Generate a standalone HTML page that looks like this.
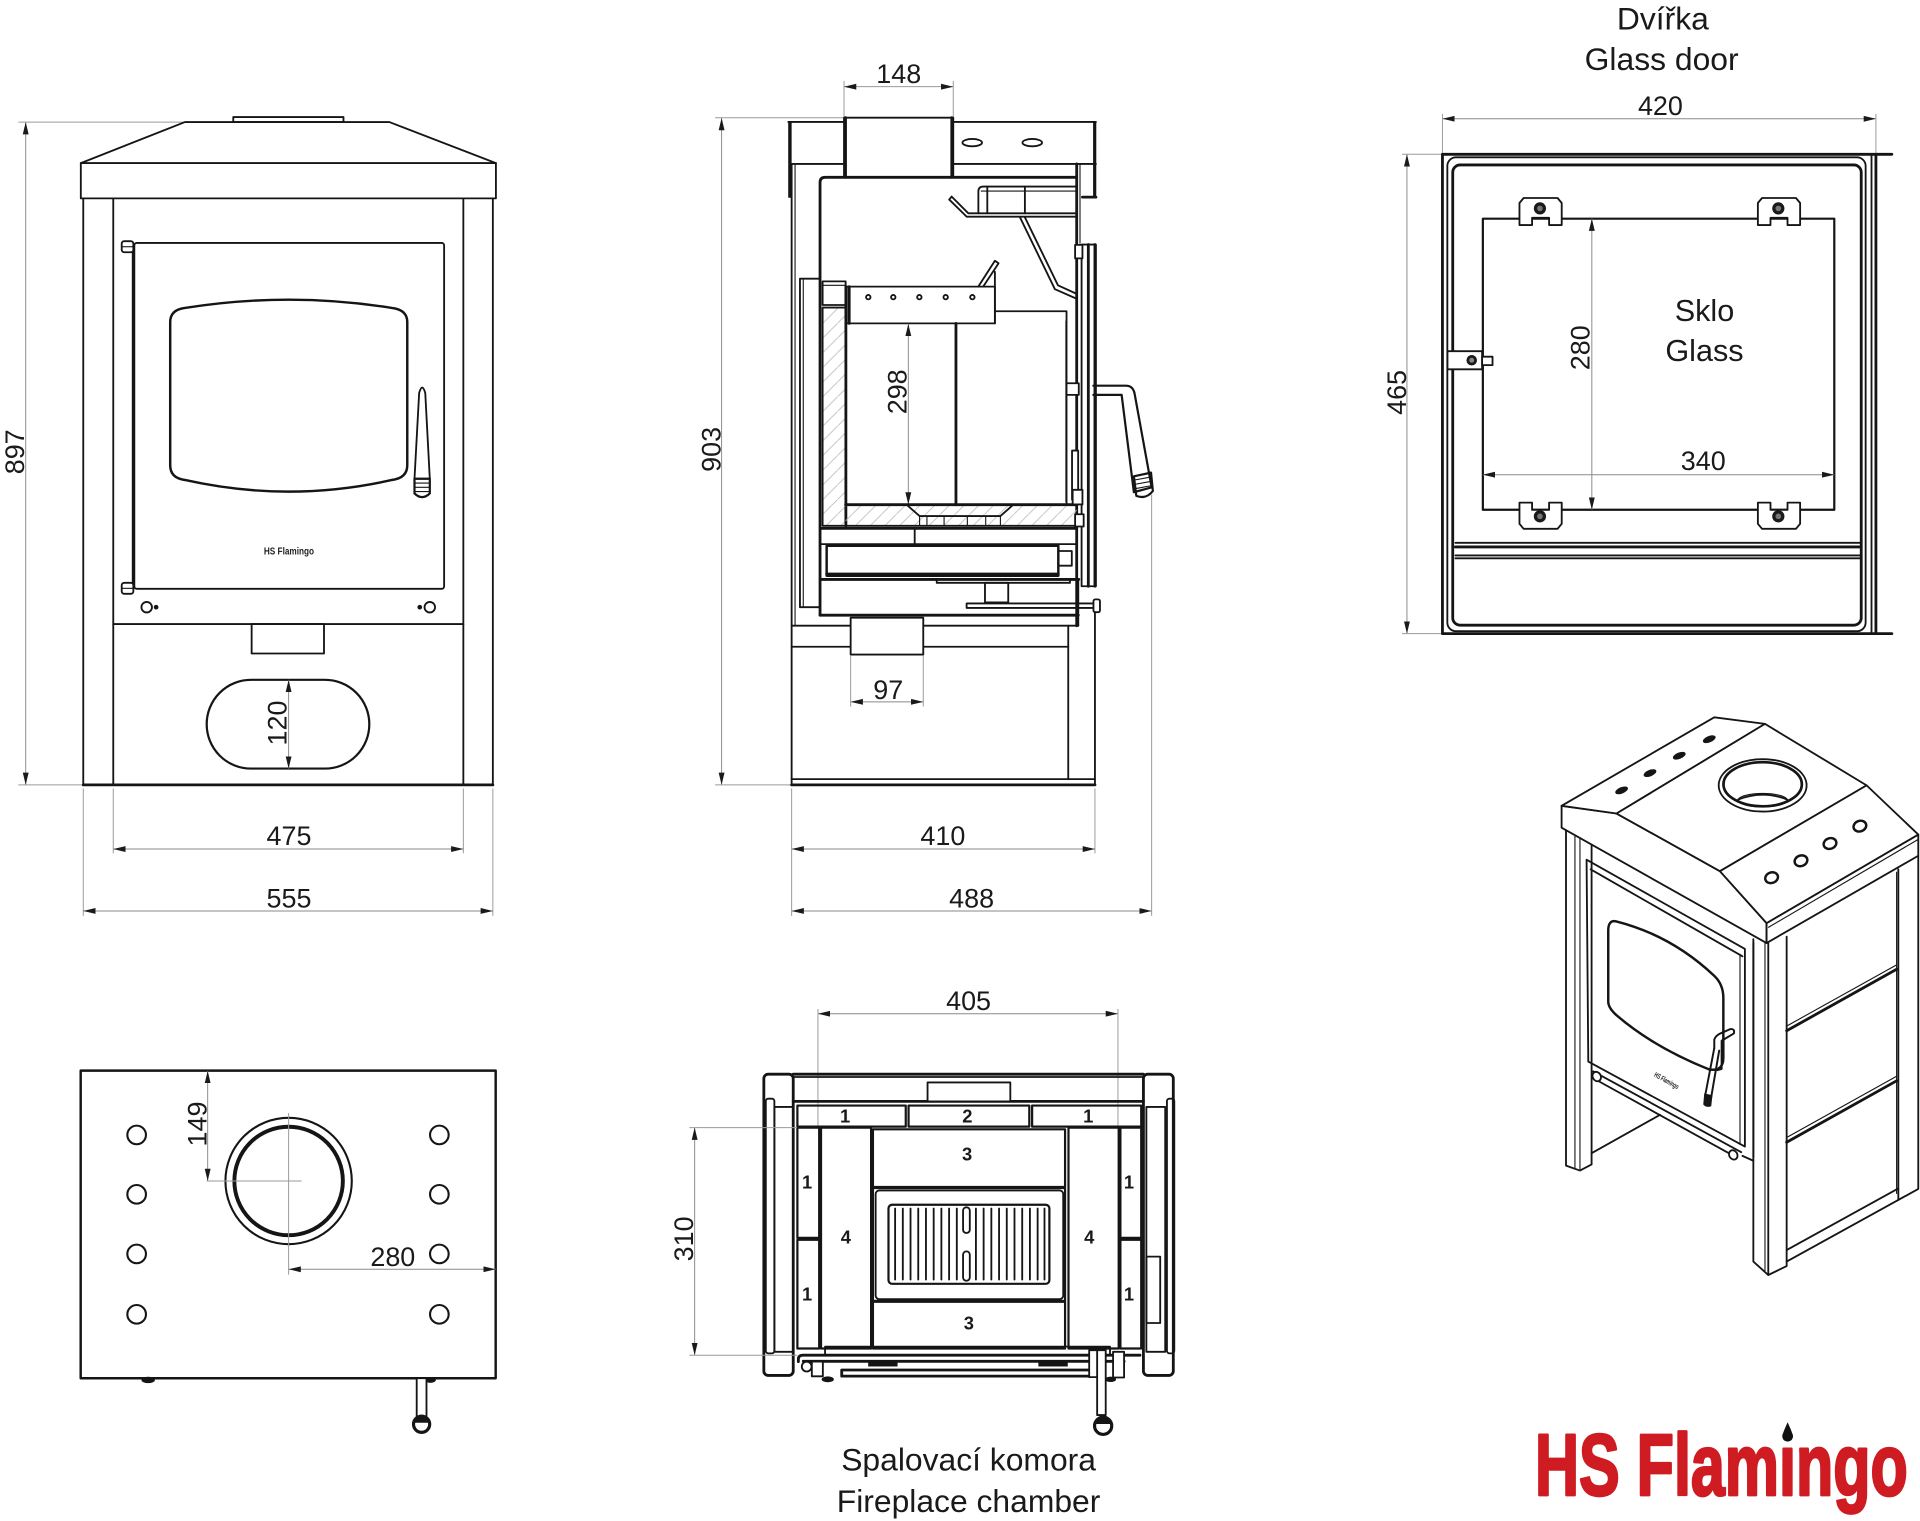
<!DOCTYPE html>
<html><head><meta charset="utf-8"><style>
html,body{margin:0;padding:0;background:#fff;}
svg{display:block}
.l{fill:none;stroke:#151515;stroke-width:1.5;stroke-linejoin:round;stroke-linecap:round}
.w{fill:#fff;stroke:#151515;stroke-width:1.5;stroke-linejoin:round}
.m{fill:none;stroke:#151515;stroke-width:2.3;stroke-linejoin:round;stroke-linecap:round}
.n{fill:none;stroke:#151515;stroke-width:0.9}
.d{fill:none;stroke:#9a9a9a;stroke-width:0.8}
.a{fill:none;stroke:#8a8a8a;stroke-width:0.8}
.f{fill:#151515;stroke:none}
text{font-family:"Liberation Sans",Arial,sans-serif;fill:#1a1a1a}
.dt{font-size:22px}
.lb{font-size:26px}
.nb{font-size:15px;font-weight:bold}
</style></head><body>
<svg width="1920" height="1521" viewBox="0 0 1568 1242.2" preserveAspectRatio="none" xmlns="http://www.w3.org/2000/svg">
<defs>
<marker id="ar" viewBox="0 0 10 6" refX="10" refY="3" markerWidth="10" markerHeight="6" markerUnits="userSpaceOnUse" orient="auto-start-reverse"><path d="M0,0.6 L10,3 L0,5.4 z" fill="#1a1a1a"/></marker>
<pattern id="h" patternUnits="userSpaceOnUse" width="12" height="12"><path d="M-1,13 L13,-1" stroke="#bdbdbd" stroke-width="0.7"/></pattern>
</defs>
<rect width="1568" height="1242.2" fill="#fff"/>

<!-- ================= FRONT VIEW ================= -->
<g>
<line class="a" x1="21" y1="99.7" x2="21" y2="641" marker-start="url(#ar)" marker-end="url(#ar)"/>
<path class="d" d="M15,99.7 H151 M15,641 H68"/>
<text class="dt" transform="translate(19.6,369) rotate(-90)" text-anchor="middle">897</text>

<polyline class="l" points="66,133.2 151,99.7 318,99.7 405,133.2"/>
<rect class="l" x="190.5" y="95.6" width="90" height="4.1"/>
<rect class="l" x="66" y="133.2" width="339" height="28.8"/>
<line class="l" x1="68" y1="162" x2="68" y2="641"/>
<line class="l" x1="402.5" y1="162" x2="402.5" y2="641"/>
<line class="l" x1="92.5" y1="162" x2="92.5" y2="641"/>
<line class="l" x1="378.4" y1="162" x2="378.4" y2="641"/>
<line class="m" x1="68" y1="641" x2="402.5" y2="641"/>
<line class="l" x1="92.5" y1="509.7" x2="378.4" y2="509.7"/>
<rect class="l" x="109.7" y="198.4" width="253" height="282.5" rx="2"/>
<line class="m" x1="108.8" y1="201" x2="108.8" y2="480"/>
<rect class="w" x="99.4" y="197" width="9.5" height="9" rx="2"/>
<line class="n" x1="99.4" y1="201.5" x2="108.9" y2="201.5"/>
<rect class="w" x="99.4" y="476" width="9.5" height="9" rx="2"/>
<line class="n" x1="99.4" y1="480.5" x2="108.9" y2="480.5"/>
<path class="l" style="stroke-width:2" d="M139,263 Q139,253 151,251.5 Q236,238 320,251.5 Q332.6,253 332.6,263 L332.6,380 Q332.6,390.5 320,392 Q236,411 151,392 Q139,390.5 139,380 Z"/>
<path class="l" d="M342.3,321 Q344.8,312 347.3,321 L351,391 L338.5,391 Z"/>
<path class="l" style="stroke-width:1.8" d="M338.5,391 L351,391 L351,403 Q344.7,409 338.5,403 Z"/>
<path class="n" d="M338.5,394.5 H351 M338.5,398 H351 M338.5,401.5 H351"/>
<text x="236" y="453" text-anchor="middle" textLength="41" lengthAdjust="spacingAndGlyphs" style="font-size:8.5px;font-weight:bold;fill:#222">HS Flamingo</text>
<circle class="l" cx="119.8" cy="495.9" r="4.3"/>
<circle class="f" cx="127.5" cy="495.9" r="1.9"/>
<circle class="l" cx="351" cy="495.9" r="4.3"/>
<circle class="f" cx="342.8" cy="495.9" r="1.9"/>
<rect class="l" x="205.5" y="509.7" width="59.1" height="24"/>
<rect class="l" style="stroke-width:1.8" x="168.8" y="555.2" width="132.8" height="72.5" rx="36.2"/>
<line class="a" x1="235.7" y1="555.2" x2="235.7" y2="627.7" marker-start="url(#ar)" marker-end="url(#ar)"/>
<text class="dt" transform="translate(234,590.5) rotate(-90)" text-anchor="middle">120</text>

<path class="d" d="M92.5,644 V697 M378.4,644 V697 M68,644 V748 M402.5,644 V748"/>
<line class="a" x1="92.5" y1="693.4" x2="378.4" y2="693.4" marker-start="url(#ar)" marker-end="url(#ar)"/>
<text class="dt" x="236" y="690" text-anchor="middle">475</text>
<line class="a" x1="68" y1="744" x2="402.5" y2="744" marker-start="url(#ar)" marker-end="url(#ar)"/>
<text class="dt" x="236" y="741" text-anchor="middle">555</text>
</g>

<!-- ================= SIDE VIEW ================= -->
<g>
<line class="a" x1="589.3" y1="96.4" x2="589.3" y2="641" marker-start="url(#ar)" marker-end="url(#ar)"/>
<path class="d" d="M584,96.2 H689 M584,641 H646"/>
<text class="dt" transform="translate(588.5,367) rotate(-90)" text-anchor="middle">903</text>

<line class="a" x1="689.3" y1="70.8" x2="778.5" y2="70.8" marker-start="url(#ar)" marker-end="url(#ar)"/>
<path class="d" d="M689.3,66 V96 M778.5,66 V96"/>
<text class="dt" x="734" y="68" text-anchor="middle">148</text>

<path class="l" d="M643.8,99.6 H689.3 M778.5,99.6 H895 M646.5,133.9 H689.3 M778.5,133.9 H895"/>
<line x1="645.1" y1="99.6" x2="645.1" y2="161.5" stroke="#151515" stroke-width="2.8"/>
<line x1="894" y1="99.6" x2="894" y2="161" stroke="#151515" stroke-width="2.6"/>
<line class="m" x1="884" y1="161" x2="895" y2="161"/>
<rect class="l" x="689.3" y="96.1" width="89.2" height="48.7"/>
<line class="m" x1="690.5" y1="96.1" x2="690.5" y2="144.8"/>
<line class="m" x1="777.3" y1="96.1" x2="777.3" y2="144.8"/>
<ellipse class="l" cx="794" cy="116.5" rx="8" ry="3"/>
<ellipse class="l" cx="843" cy="116.5" rx="8" ry="3"/>
<line class="l" x1="646.5" y1="133.9" x2="646.5" y2="641"/>
<line class="n" x1="649.3" y1="133.9" x2="649.3" y2="511"/>
<path class="m" d="M669.7,502.4 V149 Q669.7,144.8 674,144.8 H879.3"/>
<line class="m" x1="879.3" y1="133.9" x2="879.3" y2="511"/>
<line class="n" x1="882" y1="133.9" x2="882" y2="199"/>
<path class="l" d="M879.3,152.4 H803 Q799,152.4 799,156.5 V174.2"/>
<line class="n" x1="801" y1="156" x2="879.3" y2="156"/>
<path class="l" d="M806.3,152.4 V174.2 M837,152.4 V174.2"/>
<polyline class="l" points="777.2,160.6 790.8,174.2 879.3,174.2"/>
<polyline class="l" points="775.2,163 789.5,177 879.3,177"/>
<line class="l" x1="775.2" y1="163" x2="777.2" y2="160.6"/>
<polyline class="l" points="833,177.5 861.5,236.2 879.3,244"/>
<polyline class="l" points="837,177.5 864,233 879.3,240"/>
<rect class="l" x="653.3" y="227.6" width="16.4" height="268.3"/>
<line class="n" x1="656" y1="227.6" x2="656" y2="495.9"/>
<rect class="l" x="671.8" y="229.8" width="18.8" height="19.3"/>
<line class="n" x1="671.8" y1="233" x2="690.6" y2="233"/>
<rect x="671.8" y="251.2" width="18.8" height="178.2" fill="url(#h)"/>
<rect class="l" x="671.8" y="251.2" width="18.8" height="178.2"/>
<line class="m" x1="690.8" y1="234" x2="690.8" y2="429.4"/>
<rect class="l" x="691.4" y="234.1" width="121.1" height="30"/>
<line class="m" x1="693.5" y1="234.1" x2="693.5" y2="264.1"/>
<circle class="l" cx="709.1" cy="242.7" r="1.8"/>
<circle class="l" cx="729.5" cy="242.7" r="1.8"/>
<circle class="l" cx="750.8" cy="242.7" r="1.8"/>
<circle class="l" cx="772.3" cy="242.7" r="1.8"/>
<circle class="l" cx="794.1" cy="242.7" r="1.8"/>
<polyline class="l" points="799,234 812.5,213 815.5,215 803,234"/>
<line class="l" x1="812.5" y1="222" x2="812.5" y2="264.1"/>
<line class="m" x1="780.7" y1="264.1" x2="780.7" y2="412.2"/>
<polyline class="l" points="812.5,254.2 871,254.2 871,412.2"/>
<line class="a" x1="741.8" y1="264.5" x2="741.8" y2="412" marker-start="url(#ar)" marker-end="url(#ar)"/>
<text class="dt" transform="translate(740.4,320) rotate(-90)" text-anchor="middle">298</text>
<rect x="690.6" y="412.2" width="188.7" height="17.2" fill="url(#h)"/>
<line class="m" x1="690.6" y1="412.2" x2="879.3" y2="412.2"/>
<polyline class="l" points="740.4,412.2 751,421.5 817,421.5 827.5,412.2"/>
<path class="n" d="M751,421.5 V429.4 M817,421.5 V429.4 M757,421.5 V429.4 M771,421.5 V429.4 M790,421.5 V429.4 M805,421.5 V429.4"/>
<line class="l" x1="690.6" y1="429.4" x2="879.3" y2="429.4"/>
<line class="m" x1="671" y1="431.5" x2="879.3" y2="431.5"/>
<line class="l" x1="671" y1="444.4" x2="879.3" y2="444.4"/>
<line class="l" x1="747" y1="431.5" x2="747" y2="444.4"/>
<rect class="l" style="stroke-width:2" x="675.1" y="445.7" width="189.2" height="24.5"/>
<line class="m" x1="675.1" y1="468.8" x2="864.3" y2="468.8"/>
<rect class="l" x="864.3" y="450" width="11" height="12"/>
<line class="m" x1="671" y1="473.2" x2="881" y2="473.2"/>
<rect class="l" x="765" y="473.2" width="108.8" height="2.8"/>
<rect class="l" x="804.4" y="476" width="19" height="16"/>
<rect class="l" x="789.4" y="492.8" width="107.5" height="3.7"/>
<rect class="w" x="893" y="489.5" width="5.3" height="10.5" rx="1.5"/>
<line class="m" x1="669.7" y1="502.4" x2="880.6" y2="502.4"/>
<line class="l" x1="880.6" y1="473" x2="880.6" y2="511"/>
<rect class="l" x="883.3" y="199.7" width="11.7" height="279.1"/>
<line class="m" x1="888.8" y1="199.7" x2="888.8" y2="478.8"/>
<line class="m" x1="894.2" y1="199.7" x2="894.2" y2="478.8"/>
<line class="n" x1="870.5" y1="262" x2="870.5" y2="410"/>
<rect class="w" x="878" y="200" width="6" height="11"/>
<rect class="w" x="871" y="313" width="10" height="9.5"/>
<rect class="w" x="875.5" y="368" width="5" height="40"/>
<rect class="w" x="876" y="400" width="8" height="12"/>
<rect class="w" x="878" y="420" width="7" height="10"/>
<path class="l" style="stroke-width:1.8" d="M892.9,315 H919.5 Q925,315 926.5,321 L940.5,398 L926,402 L916,322.5 H892.9"/>
<path class="l" style="stroke-width:1.8" d="M926,389 L940,386 L941.5,401 Q936,408 928,405 Z"/>
<path class="n" d="M926.5,392 L940.5,389.5 M927,395.5 L941,393 M927.5,399 L941.3,396.5"/>
<line class="l" x1="646.5" y1="511" x2="880.6" y2="511"/>
<line class="l" x1="646.5" y1="528.2" x2="872.4" y2="528.2"/>
<rect class="w" x="694.7" y="504.5" width="59.3" height="30.1"/>
<line class="l" x1="872.4" y1="511" x2="872.4" y2="636.3"/>
<line class="l" x1="894.2" y1="500" x2="894.2" y2="641"/>
<line class="l" x1="646.5" y1="636.3" x2="894.2" y2="636.3"/>
<line class="m" x1="646.5" y1="641" x2="894.2" y2="641"/>
<line class="a" x1="694.7" y1="573.2" x2="754" y2="573.2" marker-start="url(#ar)" marker-end="url(#ar)"/>
<path class="d" d="M694.7,535 V577 M754,535 V577"/>
<text class="dt" x="725.4" y="571" text-anchor="middle">97</text>

<path class="d" d="M646.5,644 V748 M894.2,644 V697 M940.5,404 V748"/>
<line class="a" x1="646.5" y1="693.4" x2="894.2" y2="693.4" marker-start="url(#ar)" marker-end="url(#ar)"/>
<text class="dt" x="770" y="690" text-anchor="middle">410</text>
<line class="a" x1="646.5" y1="744" x2="940.5" y2="744" marker-start="url(#ar)" marker-end="url(#ar)"/>
<text class="dt" x="793.5" y="741" text-anchor="middle">488</text>
</g>

<!-- ================= GLASS DOOR ================= -->
<g>
<text class="lb" x="1358" y="24" text-anchor="middle">Dvířka</text>
<text class="lb" x="1357" y="57" text-anchor="middle">Glass door</text>
<line class="a" x1="1178" y1="97" x2="1532" y2="97" marker-start="url(#ar)" marker-end="url(#ar)"/>
<path class="d" d="M1178,93 V126 M1532,93 V126"/>
<text class="dt" x="1356" y="94" text-anchor="middle">420</text>
<line class="a" x1="1149" y1="126" x2="1149" y2="517.5" marker-start="url(#ar)" marker-end="url(#ar)"/>
<path class="d" d="M1145,126 H1178 M1145,517.5 H1178"/>
<text class="dt" transform="translate(1148.2,320.5) rotate(-90)" text-anchor="middle">465</text>

<path class="m" d="M1545,126 H1178 V517.5 H1545"/>
<line class="l" x1="1528.4" y1="126" x2="1528.4" y2="517.5"/>
<line class="m" x1="1532" y1="126" x2="1532" y2="517.5"/>
<rect class="l" x="1182" y="128.5" width="341.6" height="387" rx="7"/>
<rect class="m" x="1186.4" y="134.7" width="333.6" height="375.9" rx="6"/>
<path class="l" d="M1188.6,443.3 H1519 M1188.6,453.6 H1519 M1188.6,456 H1519"/>
<line class="m" x1="1188.6" y1="446.7" x2="1519" y2="446.7"/>
<rect class="l" style="stroke-width:1.8" x="1211" y="178.6" width="287" height="237.7"/>
<g>
<path class="w" d="M1240.9,165.8 L1244.3,161.7 L1272,161.7 L1275.4,165.8 V183.8 H1265.1 V177.9 H1251.2 V183.8 H1240.9 Z"/>
<circle cx="1257.6" cy="170.2" r="5" fill="#1a1a1a"/><circle cx="1257.6" cy="170.2" r="2.3" fill="#777"/>
<path class="w" d="M1435.6,165.8 L1439,161.7 L1466.7,161.7 L1470.1,165.8 V183.8 H1459.8 V177.9 H1445.9 V183.8 H1435.6 Z"/>
<circle cx="1452.3" cy="170.2" r="5" fill="#1a1a1a"/><circle cx="1452.3" cy="170.2" r="2.3" fill="#777"/>
</g>
<g>
<path class="w" d="M1240.9,427.8 L1244.3,431.9 L1272,431.9 L1275.4,427.8 V410.5 H1265.1 V416.4 H1251.2 V410.5 H1240.9 Z"/>
<circle cx="1257.6" cy="421.7" r="5" fill="#1a1a1a"/><circle cx="1257.6" cy="421.7" r="2.3" fill="#777"/>
<path class="w" d="M1435.6,427.8 L1439,431.9 L1466.7,431.9 L1470.1,427.8 V410.5 H1459.8 V416.4 H1445.9 V410.5 H1435.6 Z"/>
<circle cx="1452.3" cy="421.7" r="5" fill="#1a1a1a"/><circle cx="1452.3" cy="421.7" r="2.3" fill="#777"/>
</g>
<rect class="w" x="1182.1" y="286.8" width="28.3" height="14.8"/>
<rect class="w" x="1210.4" y="291.3" width="8.5" height="6.9"/>
<circle cx="1201.9" cy="294.2" r="4.3" fill="#1a1a1a"/><circle cx="1201.9" cy="294.2" r="2" fill="#888"/>
<line class="a" x1="1300" y1="178.6" x2="1300" y2="416.3" marker-start="url(#ar)" marker-end="url(#ar)"/>
<text class="dt" transform="translate(1298,284) rotate(-90)" text-anchor="middle">280</text>
<line class="a" x1="1211" y1="387.7" x2="1498" y2="387.7" marker-start="url(#ar)" marker-end="url(#ar)"/>
<text class="dt" x="1391" y="384" text-anchor="middle">340</text>
<text class="lb" x="1392" y="262" text-anchor="middle" style="font-size:25px">Sklo</text>
<text class="lb" x="1392" y="295" text-anchor="middle" style="font-size:25px">Glass</text>
</g>

<!-- ================= TOP VIEW ================= -->
<g>
<rect class="m" style="stroke-width:2" x="65.9" y="874.4" width="338.9" height="251.2"/>
<circle class="l" style="stroke-width:1.7" cx="111.6" cy="926.9" r="7.6"/>
<circle class="l" style="stroke-width:1.7" cx="111.6" cy="975.4" r="7.6"/>
<circle class="l" style="stroke-width:1.7" cx="111.6" cy="1024.1" r="7.6"/>
<circle class="l" style="stroke-width:1.7" cx="111.6" cy="1073.4" r="7.6"/>
<circle class="l" style="stroke-width:1.7" cx="358.8" cy="926.9" r="7.6"/>
<circle class="l" style="stroke-width:1.7" cx="358.8" cy="975.4" r="7.6"/>
<circle class="l" style="stroke-width:1.7" cx="358.8" cy="1024.1" r="7.6"/>
<circle class="l" style="stroke-width:1.7" cx="358.8" cy="1073.4" r="7.6"/>
<circle class="l" style="stroke-width:1.7" cx="235.7" cy="964.5" r="51.6"/>
<circle class="l" style="stroke-width:3.2" cx="235.7" cy="964.5" r="44.3"/>
<path class="d" d="M235.7,909 V1041 M168.8,964.5 H246.3"/>
<line class="a" x1="169.6" y1="874.6" x2="169.6" y2="964.5" marker-start="url(#ar)" marker-end="url(#ar)"/>
<text class="dt" transform="translate(168.8,918) rotate(-90)" text-anchor="middle">149</text>
<line class="a" x1="235.7" y1="1036.6" x2="404.8" y2="1036.6" marker-start="url(#ar)" marker-end="url(#ar)"/>
<text class="dt" x="320.8" y="1034" text-anchor="middle">280</text>
<ellipse class="f" cx="121" cy="1127" rx="5.5" ry="2.6"/>
<ellipse class="f" cx="351.5" cy="1127" rx="4.5" ry="2.4"/>
<rect class="w" x="340.3" y="1125.6" width="8" height="32"/>
<circle cx="344.3" cy="1163.2" r="6.6" fill="#fff" stroke="#151515" stroke-width="2.6"/>
<path d="M337.7,1162 A6.6,6.6 0 0 1 350.9,1162 Z" fill="#151515"/>
</g>

<!-- ================= CHAMBER ================= -->
<g>
<line class="a" x1="668" y1="827.9" x2="913" y2="827.9" marker-start="url(#ar)" marker-end="url(#ar)"/>
<path class="d" d="M668,824 V921 M913,824 V921"/>
<text class="dt" x="791" y="825" text-anchor="middle">405</text>

<rect class="m" x="623.8" y="877.3" width="24" height="246" rx="3.5"/>
<rect class="m" x="933.8" y="877.3" width="24.4" height="246" rx="3.5"/>
<line class="m" x1="647.8" y1="877.3" x2="933.8" y2="877.3"/>
<line class="l" x1="647.8" y1="879.6" x2="933.8" y2="879.6"/>
<line class="m" x1="647.8" y1="899.5" x2="933.8" y2="899.5"/>
<rect class="w" x="757.5" y="884" width="67.6" height="15.5"/>
<rect class="l" x="625.4" y="897.3" width="7" height="208" rx="2"/>
<rect class="l" x="632.4" y="904" width="15.4" height="200"/>
<rect class="l" x="953" y="897.3" width="6" height="208" rx="2"/>
<rect class="l" x="936.2" y="904" width="15.4" height="200"/>
<rect class="l" x="936.2" y="1026.3" width="11.3" height="54.2"/>
<rect class="l" style="stroke-width:1.8" x="651.2" y="902.9" width="88.5" height="17.2"/>
<rect class="l" style="stroke-width:1.8" x="742" y="902.9" width="98.6" height="17.2"/>
<rect class="l" style="stroke-width:1.8" x="842.9" y="902.9" width="89.1" height="17.2"/>
<rect class="l" style="stroke-width:1.8" x="651.2" y="920.9" width="17.8" height="90.1"/>
<rect class="l" style="stroke-width:1.8" x="651.2" y="1012.5" width="17.8" height="88.8"/>
<rect class="l" style="stroke-width:1.8" x="670.5" y="920.9" width="40.9" height="180.4"/>
<rect class="l" style="stroke-width:1.8" x="872.6" y="920.9" width="41" height="180.4"/>
<rect class="l" style="stroke-width:1.8" x="915" y="920.9" width="17" height="90.1"/>
<rect class="l" style="stroke-width:1.8" x="915" y="1012.5" width="17" height="88.8"/>
<rect class="l" style="stroke-width:1.8" x="712.9" y="922.3" width="156.9" height="47.1"/>
<rect class="l" style="stroke-width:1.8" x="712.9" y="1063.2" width="156.9" height="38.1"/>
<rect class="l" style="stroke-width:1.8" x="712.9" y="970.3" width="156.9" height="92.1"/>
<rect class="l" x="715.1" y="972.2" width="153.2" height="88.8" rx="3"/>
<rect class="l" style="stroke-width:1.8" x="725.6" y="983.9" width="131.4" height="64.6" rx="3"/>
<path class="l" d="M731,987 V1045 M737.3,987 V1045 M743.6,987 V1045 M749.9,987 V1045 M756.2,987 V1045 M762.5,987 V1045 M768.8,987 V1045 M775.1,987 V1045 M781.4,987 V1045 M797,987 V1045 M803.3,987 V1045 M809.6,987 V1045 M815.9,987 V1045 M822.2,987 V1045 M828.5,987 V1045 M834.8,987 V1045 M841.1,987 V1045 M847.4,987 V1045 M853,987 V1045"/>
<rect class="l" x="786.5" y="986" width="5.5" height="21" rx="2.7"/>
<rect class="l" x="786.5" y="1022" width="5.5" height="24" rx="2.7"/>
<text class="nb" x="690.2" y="916.6" text-anchor="middle">1</text>
<text class="nb" x="790" y="916.6" text-anchor="middle">2</text>
<text class="nb" x="888.7" y="916.6" text-anchor="middle">1</text>
<text class="nb" x="659.1" y="970.7" text-anchor="middle">1</text>
<text class="nb" x="659.1" y="1062.3" text-anchor="middle">1</text>
<text class="nb" x="922" y="970.7" text-anchor="middle">1</text>
<text class="nb" x="922" y="1062.3" text-anchor="middle">1</text>
<text class="nb" x="690.8" y="1015.6" text-anchor="middle">4</text>
<text class="nb" x="889.5" y="1015.6" text-anchor="middle">4</text>
<text class="nb" x="789.8" y="947.7" text-anchor="middle">3</text>
<text class="nb" x="791.2" y="1085.9" text-anchor="middle">3</text>
<rect class="l" x="673.8" y="1099.8" width="232.7" height="6.8"/>
<path class="m" d="M931,1106.8 H656 Q652,1106.8 652,1110 V1112"/>
<line class="m" x1="656" y1="1111.8" x2="918" y2="1111.8"/>
<rect class="m" x="687.4" y="1118.9" width="206.9" height="5"/>
<rect class="f" x="709" y="1112" width="24" height="4"/>
<rect class="f" x="848" y="1112" width="24" height="4"/>
<circle class="w" cx="658.8" cy="1116.1" r="4"/>
<rect class="w" x="663" y="1112" width="9" height="12"/>
<ellipse class="f" cx="676" cy="1126.5" rx="5" ry="2.4"/>
<rect class="w" x="889.5" y="1102.7" width="10" height="22"/>
<rect class="w" x="909" y="1104" width="9" height="21"/>
<rect class="w" x="896" y="1102.7" width="7" height="53"/>
<ellipse class="f" cx="907" cy="1126.5" rx="4.5" ry="2.2"/>
<circle cx="900.9" cy="1164.5" r="7" fill="#fff" stroke="#151515" stroke-width="2.6"/>
<path d="M893.9,1163 A7,7 0 0 1 907.9,1163 Z" fill="#151515"/>
<line class="a" x1="567.3" y1="920.9" x2="567.3" y2="1106.8" marker-start="url(#ar)" marker-end="url(#ar)"/>
<path class="d" d="M563,920.9 H651 M563,1106.8 H651"/>
<text class="dt" transform="translate(565.9,1011.8) rotate(-90)" text-anchor="middle">310</text>
<text class="lb" x="791" y="1201" text-anchor="middle">Spalovací komora</text>
<text class="lb" x="791" y="1235" text-anchor="middle">Fireplace chamber</text>
</g>

<!-- ================= 3D VIEW ================= -->
<g>
<path class="l" d="M1278.9,677 V952 L1290.3,956 L1299.8,951 V683"/>
<line class="n" x1="1286.2" y1="680" x2="1286.2" y2="954"/>
<line class="n" x1="1290.3" y1="681" x2="1290.3" y2="955"/>
<path class="l" d="M1431.9,767 V1030.3 L1444.1,1041.3 L1459.1,1034 V765"/>
<line class="n" x1="1441.4" y1="770" x2="1441.4" y2="1038"/>
<line class="l" x1="1444.1" y1="770" x2="1444.1" y2="1041"/>
<path class="l" d="M1550.3,710 V980 L1566.6,971 V699"/>
<line class="n" x1="1548.9" y1="712" x2="1548.9" y2="975"/>
<line class="m" x1="1459.1" y1="841.8" x2="1548.9" y2="791.6"/>
<line class="n" x1="1459.1" y1="838" x2="1548.9" y2="788"/>
<line class="m" x1="1459.1" y1="932.9" x2="1548.9" y2="882.7"/>
<line class="n" x1="1459.1" y1="929" x2="1548.9" y2="879"/>
<line class="l" x1="1459.1" y1="1020.9" x2="1550.3" y2="970.6"/>
<line class="l" x1="1459.1" y1="1030.3" x2="1550.3" y2="980"/>
<polygon class="l" points="1295.7,702.1 1425,775 1425,936.4 1297.1,867"/>
<line class="l" x1="1299" y1="710" x2="1423" y2="781"/>
<line class="n" x1="1421" y1="779" x2="1421" y2="935"/>
<line class="l" x1="1431.9" y1="770" x2="1431.9" y2="945"/>
<path class="l" style="stroke-width:2" d="M1313.4,760 Q1313.4,751 1320,752.5 Q1365,764 1400,797 Q1407.4,804 1407.4,815 L1407.4,864 Q1407.4,875 1396,873.5 Q1350,855 1320,829 Q1313.4,823 1313.4,818 Z"/>
<path class="l" style="stroke-width:1.6" d="M1400,856 L1400,849 Q1401,846 1405,844 L1413,840.5 Q1417,840 1416,844 L1406,850 L1406,873 L1402.5,874"/>
<path class="l" style="stroke-width:1.6" d="M1400,856 L1392.5,895 L1397.5,896 L1404,858"/>
<path d="M1391.8,893 L1398.5,894.5 L1397.5,903.5 Q1393.5,905 1391,902 Z" fill="#151515"/>
<text transform="translate(1350.5,879) rotate(29)" textLength="22" lengthAdjust="spacingAndGlyphs" style="font-size:6px;font-weight:bold;fill:#222">HS Flamingo</text>
<line class="l" x1="1301.2" y1="875" x2="1422" y2="941"/>
<line class="l" x1="1301.2" y1="880.6" x2="1416.9" y2="944.6"/>
<ellipse class="w" cx="1304" cy="879.2" rx="3.3" ry="4" transform="rotate(-30 1304 879.2)"/>
<ellipse class="w" cx="1415.5" cy="943.2" rx="3.3" ry="4" transform="rotate(-30 1415.5 943.2)"/>
<line class="l" x1="1299.8" y1="941.8" x2="1355.7" y2="910.5"/>
<line class="l" x1="1423" y1="944" x2="1431.9" y2="948"/>
<polygon class="w" points="1275.3,658.1 1320.2,664.4 1404.6,711.5 1442.7,753.9 1442.7,770.2 1275.3,676"/>
<polygon class="w" points="1442.7,753.9 1566.6,681.6 1566.6,698.9 1442.7,770.2"/>
<polygon class="w" points="1275.3,658.1 1400,585.8 1441.4,591.2 1320.2,664.4"/>
<polygon class="w" points="1320.2,664.4 1441.4,591.2 1524.4,641.4 1404.6,711.5"/>
<polygon class="w" points="1404.6,711.5 1524.4,641.4 1566.6,681.6 1442.7,753.9"/>
<line class="n" x1="1444" y1="757.5" x2="1566.6" y2="685.5"/>
<ellipse class="f" cx="1324.3" cy="645.5" rx="5.5" ry="2.6" transform="rotate(-22 1324.3 645.5)"/>
<ellipse class="f" cx="1347.5" cy="631.4" rx="5.5" ry="2.6" transform="rotate(-22 1347.5 631.4)"/>
<ellipse class="f" cx="1371.4" cy="617.2" rx="5.5" ry="2.6" transform="rotate(-22 1371.4 617.2)"/>
<ellipse class="f" cx="1395.9" cy="603.7" rx="5.5" ry="2.6" transform="rotate(-22 1395.9 603.7)"/>
<ellipse class="l" style="stroke-width:2" cx="1446.8" cy="716.8" rx="5.3" ry="4.3" transform="rotate(-20 1446.8 716.8)"/>
<ellipse class="l" style="stroke-width:2" cx="1470.8" cy="703" rx="5.3" ry="4.3" transform="rotate(-20 1470.8 703)"/>
<ellipse class="l" style="stroke-width:2" cx="1494.5" cy="688.9" rx="5.3" ry="4.3" transform="rotate(-20 1494.5 688.9)"/>
<ellipse class="l" style="stroke-width:2" cx="1518.9" cy="674.7" rx="5.3" ry="4.3" transform="rotate(-20 1518.9 674.7)"/>
<ellipse class="l" cx="1439.5" cy="641.4" rx="35.9" ry="21.4"/>
<ellipse class="l" style="stroke-width:2.2" cx="1439.5" cy="640.5" rx="32" ry="18"/>
<path class="l" d="M1419.5,653 Q1439.5,645 1459.5,653"/>
<ellipse class="n" cx="1439.5" cy="653.5" rx="20" ry="5.5"/>
</g>

<!-- ================= LOGO ================= -->
<text x="1253.6" y="1221" textLength="304.4" lengthAdjust="spacingAndGlyphs" style="font-family:'Liberation Sans Narrow','Liberation Sans',Arial,sans-serif;font-weight:bold;font-size:71px;fill:#cf1b22;stroke:#cf1b22;stroke-width:2.2;stroke-linejoin:round">HS Flamıngo</text>
<path d="M1459.9,1161.5 Q1462.5,1167 1464.2,1172 A4.4,4.4 0 1 1 1455.6,1172 Q1457.3,1167 1459.9,1161.5 Z" fill="#111"/>
</svg>
</body></html>
